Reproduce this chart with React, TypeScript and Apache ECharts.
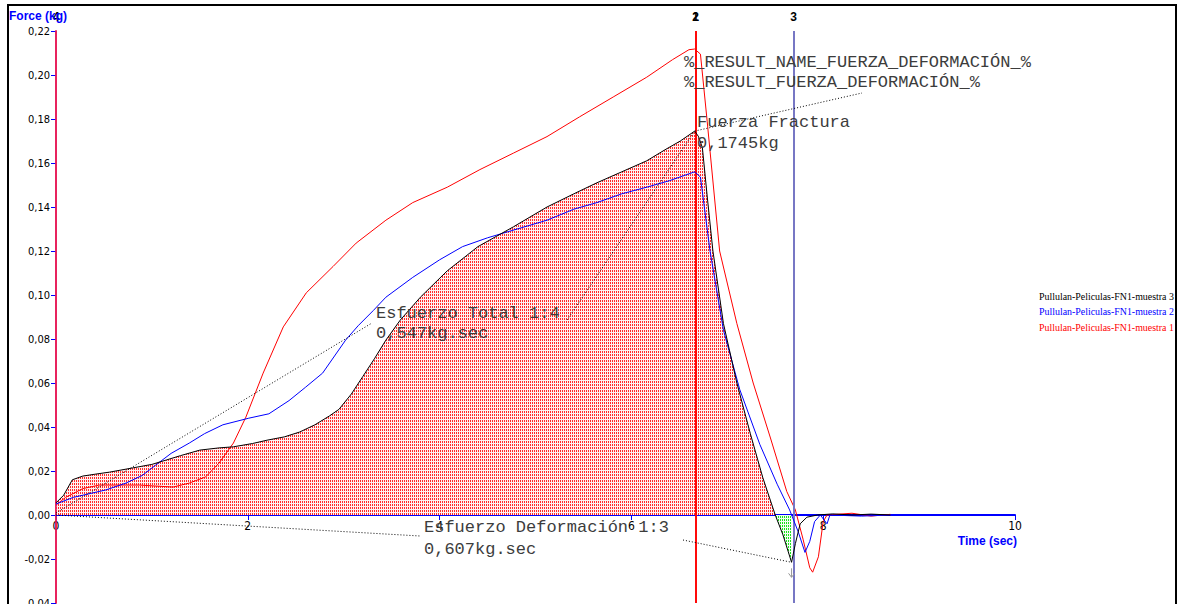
import React, { useEffect, useRef } from "react";
import * as echarts from "echarts";

// ---- data (time in sec, force in kg) ----
const muestra3: [number, number][] = [
  [0, 0.0055], [0.08, 0.009], [0.17, 0.016], [0.28, 0.0177], [0.4, 0.0185], [0.56, 0.0195],
  [0.8, 0.0214], [1.0, 0.023], [1.15, 0.025], [1.3, 0.027], [1.5, 0.0295], [1.7, 0.0305],
  [1.85, 0.031], [2.05, 0.0325], [2.2, 0.034], [2.38, 0.0355], [2.54, 0.0377], [2.7, 0.041],
  [2.85, 0.045], [2.95, 0.048], [3.08, 0.055], [3.2, 0.063], [3.32, 0.071], [3.44, 0.0795],
  [3.59, 0.0886], [3.8, 0.099], [4.08, 0.111], [4.4, 0.122], [4.77, 0.131], [5.12, 0.14],
  [5.4, 0.146], [5.64, 0.151], [5.9, 0.156], [6.16, 0.161], [6.35, 0.166], [6.51, 0.17],
  [6.66, 0.1745], [6.7, 0.172], [6.74, 0.167], [6.79, 0.145], [6.85, 0.12], [6.96, 0.087],
  [7.1, 0.06], [7.24, 0.037], [7.37, 0.017], [7.5, 0], [7.58, -0.009], [7.67, -0.0215],
  [7.71, -0.013], [7.76, -0.004], [7.83, -0.001], [7.94, 0], [8.1, 0.0005], [8.3, 0],
  [8.5, 0.0004], [8.7, 0],
];
const muestra2: [number, number][] = [
  [0, 0.005], [0.18, 0.008], [0.52, 0.0114], [0.73, 0.0145], [0.9, 0.018], [1.04, 0.0227],
  [1.2, 0.028], [1.39, 0.0327], [1.55, 0.037], [1.74, 0.041], [2.01, 0.044], [2.22, 0.046],
  [2.43, 0.052], [2.6, 0.058], [2.78, 0.0645], [3.02, 0.0795], [3.15, 0.086], [3.31, 0.093],
  [3.44, 0.099], [3.72, 0.108], [4.0, 0.116], [4.24, 0.122], [4.5, 0.126], [4.7, 0.1286],
  [5.12, 0.134], [5.4, 0.139], [5.64, 0.142], [5.9, 0.146], [6.16, 0.149], [6.4, 0.152],
  [6.66, 0.156], [6.72, 0.1536], [6.82, 0.12], [6.96, 0.084], [7.13, 0.057], [7.34, 0.032],
  [7.52, 0.014], [7.65, 0.0023], [7.74, -0.0077], [7.81, -0.017], [7.86, -0.012],
  [7.91, -0.003], [7.97, 0], [8.04, -0.004], [8.07, 0], [8.4, -0.0005], [8.7, 0],
];
const muestra1: [number, number][] = [
  [0, 0.0045], [0.1, 0.008], [0.28, 0.012], [0.45, 0.0136], [0.87, 0.0136], [1.22, 0.0127],
  [1.39, 0.0145], [1.56, 0.0173], [1.7, 0.0236], [1.85, 0.0327], [1.98, 0.0445],
  [2.16, 0.0645], [2.37, 0.0855], [2.61, 0.101], [2.89, 0.113], [3.13, 0.1236], [3.44, 0.134],
  [3.72, 0.142], [4.08, 0.149], [4.42, 0.157], [4.77, 0.1645], [5.12, 0.172], [5.46, 0.181],
  [5.81, 0.19], [6.16, 0.199], [6.43, 0.207], [6.6, 0.2115], [6.66, 0.2118], [6.72, 0.2095],
  [6.79, 0.179], [6.92, 0.12], [7.1, 0.087], [7.27, 0.06], [7.45, 0.035], [7.62, 0.0107],
  [7.71, 0.0023], [7.79, -0.011], [7.86, -0.024], [7.89, -0.026], [7.95, -0.019], [8.0, -0.003],
  [8.04, 0], [8.3, 0.0008], [8.5, -0.0005], [8.7, 0.0003],
];

const seriesNames = [
  "Pullulan-Peliculas-FN1-muestra 3",
  "Pullulan-Peliculas-FN1-muestra 2",
  "Pullulan-Peliculas-FN1-muestra 1",
];
const seriesColors = ["#000000", "#0000ff", "#ff0000"];

const markerTimes = [0, 6.67, 6.67, 7.69];
const markerLabels = ["4", "1", "2", "3"];
const markerColors = ["#e8245e", "#ff0000", "#ff0000", "#7777c4"];

const zeroCrossing = 7.5;
const xMin = 0;
const xMax = 10;
const xTickInterval = 2;
const yMin = -0.04;
const yMax = 0.22;
const yTickInterval = 0.02;

const mono = "'Liberation Mono', 'Courier New', monospace";
const narrow = "'Liberation Sans Narrow', 'DejaVu Sans Condensed', 'Liberation Sans', sans-serif";
const sans = "'Liberation Sans', Arial, sans-serif";

const GRID_TOP = 31;
const GRID_BOTTOM = 1;
const CHART_H = 604;

function makePattern(line: string, gap: string) {
  const c = document.createElement("canvas");
  c.width = 2;
  c.height = 3;
  const ctx = c.getContext("2d")!;
  ctx.fillStyle = gap;
  ctx.fillRect(0, 0, 2, 3);
  ctx.fillStyle = line;
  ctx.fillRect(0, 0, 1, 2);
  return { image: c.toDataURL(), repeat: "repeat", imageWidth: 2, imageHeight: 3 } as any;
}

export default function App() {
  const ref = useRef<HTMLDivElement>(null);
  useEffect(() => {
    const el = ref.current!;
    const chart = echarts.init(el, null, { renderer: "svg" });
    const redPattern = makePattern("#ff2a2a", "#fff0f0");
    const greenPattern = makePattern("#20e020", "#f0fff0");

    const posFill = muestra3.filter((p) => p[0] <= zeroCrossing);
    const negFill = muestra3.filter((p) => p[0] >= zeroCrossing && p[0] <= markerTimes[3]);

    // place the time axis on force = 0
    const gridH = CHART_H - GRID_TOP - GRID_BOTTOM;
    const zeroOffset = -gridH * ((0 - yMin) / (yMax - yMin));

    const lineSeries = [muestra1, muestra2, muestra3].map((d, i) => {
      const idx = 2 - i;
      return {
        type: "line",
        name: seriesNames[idx],
        data: d,
        showSymbol: false,
        symbol: "none",
        lineStyle: { color: seriesColors[idx], width: 1 },
        z: 4 + i,
      } as any;
    });
    lineSeries[2].markLine = {
      silent: true,
      symbol: "none",
      data: markerTimes.map((t, i) => ({
        xAxis: t,
        lineStyle: { color: markerColors[i], width: i === 3 ? 2 : 1.6, type: "solid" },
        label: {
          show: true,
          position: "end",
          distance: 8,
          formatter: markerLabels[i],
          color: "#000",
          fontWeight: "bold",
          fontSize: 12,
          fontFamily: sans,
        },
      })),
    };

    chart.setOption({
      animation: false,
      backgroundColor: "#ffffff",
      grid: {
        left: 56,
        right: 163,
        top: GRID_TOP,
        bottom: GRID_BOTTOM,
        containLabel: false,
        outerBoundsMode: "none",
      },
      xAxis: {
        type: "value",
        min: xMin,
        max: xMax,
        interval: xTickInterval,
        offset: zeroOffset,
        axisLine: { onZero: false, lineStyle: { color: "#0000ff", width: 2 } },
        axisTick: { show: true, length: 5, lineStyle: { color: "#0000ff", width: 1 } },
        axisLabel: { color: "#000", fontFamily: narrow, fontSize: 12, margin: 5 },
        splitLine: { show: false },
      },
      yAxis: {
        type: "value",
        min: yMin,
        max: yMax,
        interval: yTickInterval,
        axisLine: { show: true, onZero: false, lineStyle: { color: "#e8245e", width: 2 } },
        axisTick: { show: true, length: 5, lineStyle: { color: "#0000ff", width: 1 } },
        axisLabel: {
          color: "#000",
          fontFamily: narrow,
          fontSize: 11,
          margin: 6,
          formatter: (v: number) => v.toFixed(2).replace(".", ","),
        },
        splitLine: { show: false },
      },
      series: [
        {
          type: "line",
          name: "fillPos",
          data: posFill,
          showSymbol: false,
          symbol: "none",
          lineStyle: { width: 0, opacity: 0 },
          areaStyle: { color: redPattern, opacity: 1 },
          z: 1,
        },
        {
          type: "line",
          name: "fillNeg",
          data: negFill,
          showSymbol: false,
          symbol: "none",
          lineStyle: { width: 0, opacity: 0 },
          areaStyle: { color: greenPattern, opacity: 1 },
          z: 1,
        },
        ...lineSeries,
      ],
    });

    const px = (p: number[]) => chart.convertToPixel({ gridIndex: 0 }, p) as number[];
    const peak = muestra3.reduce((a, b) => (b[1] > a[1] ? b : a));
    const trough = muestra3.reduce((a, b) => (b[1] < a[1] ? b : a));
    const P = px(peak);
    const T = px(trough);
    const O = px([0, 0]);

    const dotted = { stroke: "#000", lineWidth: 1, lineDash: [1, 2] };
    const txt = (text: string, x: number, y: number) => ({
      type: "text",
      x,
      y,
      z: 50,
      style: {
        text,
        fill: "#3c3c3c",
        font: `17px ${mono}`,
        textVerticalAlign: "middle",
      },
    });

    chart.setOption({
      graphic: [
        { type: "line", z: 40, shape: { x1: O[0], y1: O[1] - 2, x2: 372, y2: 323 }, style: dotted },
        { type: "line", z: 40, shape: { x1: 567, y1: 320, x2: P[0], y2: P[1] }, style: dotted },
        { type: "line", z: 40, shape: { x1: O[0], y1: O[1], x2: 420, y2: 536 }, style: dotted },
        { type: "line", z: 40, shape: { x1: 683, y1: 540, x2: T[0], y2: T[1] }, style: dotted },
        { type: "line", z: 40, shape: { x1: P[0], y1: P[1], x2: 862, y2: 93 }, style: dotted },
        {
          type: "polyline",
          z: 40,
          shape: { points: [[T[0], T[1] + 6], [T[0], T[1] + 15]] },
          style: { stroke: "#999", lineWidth: 1, fill: null },
        },
        {
          type: "polyline",
          z: 40,
          shape: { points: [[T[0] - 3, T[1] + 11], [T[0], T[1] + 15], [T[0] + 3, T[1] + 11]] },
          style: { stroke: "#999", lineWidth: 1, fill: null },
        },
        txt("%_RESULT_NAME_FUERZA_DEFORMACIÓN_%", 684, 62),
        txt("%_RESULT_FUERZA_DEFORMACIÓN_%", 684, 82),
        txt("Fuerza Fractura", 697, 122),
        txt("0,1745kg", 697, 143),
        txt("Esfuerzo Total 1:4", 376, 313),
        txt("0,547kg.sec", 376, 333),
        txt("Esfuerzo Deformación 1:3", 424, 527),
        txt("0,607kg.sec", 424, 549),
        {
          type: "text",
          x: 9,
          y: 16,
          z: 30,
          style: { text: "Force (kg)", fill: "#0000ff", font: `bold 12px ${sans}`, textVerticalAlign: "middle" },
        },
        {
          type: "text",
          x: 1017,
          y: 541,
          z: 30,
          style: {
            text: "Time (sec)",
            fill: "#0000ff",
            font: `bold 12px ${sans}`,
            textAlign: "right",
            textVerticalAlign: "middle",
          },
        },
        ...seriesNames.map((n, i) => ({
          type: "text",
          x: 1039,
          y: 296 + i * 15.5,
          scaleX: 0.9,
          z: 30,
          style: {
            text: n,
            fill: seriesColors[i],
            font: `11px 'Liberation Serif', 'Times New Roman', serif`,
            textVerticalAlign: "middle",
          },
        })),
        { type: "rect", z: 60, shape: { x: 1177, y: 0, width: 10, height: 604 }, style: { fill: "#fff" } },
        { type: "line", z: 61, shape: { x1: 8, y1: 5, x2: 8, y2: 604 }, style: { stroke: "#000", lineWidth: 2 } },
        { type: "line", z: 61, shape: { x1: 7, y1: 5, x2: 1177, y2: 5 }, style: { stroke: "#000", lineWidth: 2 } },
        { type: "line", z: 61, shape: { x1: 1176, y1: 5, x2: 1176, y2: 604 }, style: { stroke: "#000", lineWidth: 2 } },
      ],
    });

    return () => chart.dispose();
  }, []);
  return (
    <div
      ref={ref}
      style={{ position: "fixed", left: 0, top: 0, width: 1178, height: 604, background: "#fff" }}
    />
  );
}
